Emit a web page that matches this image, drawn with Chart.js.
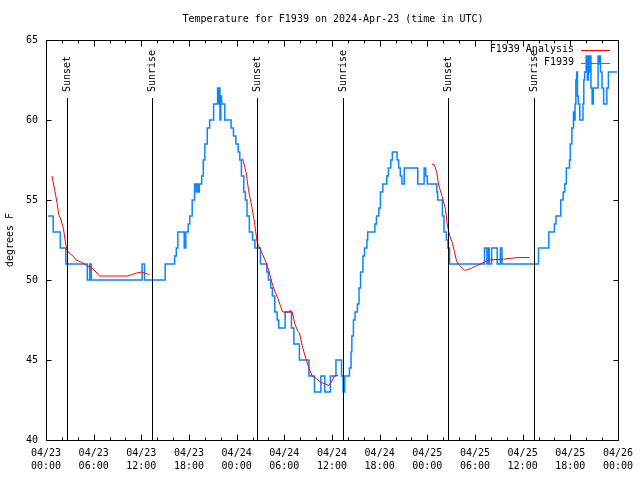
<!DOCTYPE html>
<html>
<head>
<meta charset="utf-8">
<script src="https://cdn.jsdelivr.net/npm/chart.js@4/dist/chart.umd.min.js"></script>
<style>
  html, body { margin: 0; padding: 0; background: #fff; }
  #wrap { width: 640px; height: 480px; position: relative; }
</style>
</head>
<body>
<div id="wrap"><canvas id="tempChart"></canvas></div>
<script>
// hours since 04/23 00:00 UTC
const obsHours = [0.25, 0.9, 1.8, 2.5, 5.2, 5.5, 5.7, 12.1, 12.4, 15.0, 16.2, 16.4, 16.6, 17.4, 17.6, 17.9, 18.1, 18.4, 18.7, 18.9,
  19.0, 19.2, 19.3, 19.6, 19.8, 20.0, 20.3, 20.6, 21.1, 21.6, 21.75, 21.8, 21.9, 22.0, 22.1, 22.5, 23.3, 23.6, 23.9, 24.2,
  24.4, 24.6, 24.9, 25.1, 25.3, 25.6, 26.0, 26.3, 27.0, 27.8, 28.0, 28.3, 28.5, 28.8, 29.1, 29.3, 30.1, 30.9, 31.2, 31.9,
  33.1, 33.8, 34.6, 35.1, 35.8, 36.5, 37.2, 37.4, 37.6, 38.2, 38.4, 38.5, 38.7, 38.9, 39.2, 39.4, 39.6, 39.9, 40.1, 40.4,
  40.5, 41.4, 41.6, 41.9, 42.1, 42.4, 42.9, 43.1, 43.4, 43.6, 44.2, 44.4, 44.6, 44.8, 45.1, 46.8, 47.6, 47.8, 48.0, 49.2,
  49.3, 49.9, 50.1, 50.4, 50.6, 50.8, 55.2, 55.5, 55.7, 55.8, 56.1, 56.8, 57.2, 57.4, 62.0, 63.3, 64.0, 64.2, 64.8, 65.1,
  65.3, 65.5, 65.9, 66.0, 66.2, 66.4, 66.5, 66.6, 66.7, 66.8, 66.9, 67.0, 67.2, 67.6, 67.7, 67.8, 68.0, 68.15, 68.3, 68.45,
  68.5, 68.6, 68.75, 68.9, 69.5, 69.6, 69.7, 69.8, 70.0, 70.2, 70.6, 70.8, 71.9];
const obsTemps = [54, 53, 52, 51, 50, 51, 50, 51, 50, 51, 51.5, 52, 53, 52, 53, 53.5, 54, 55, 56, 55.5,
  56, 55.5, 56, 56.5, 57.5, 58.5, 59.5, 60, 61, 62, 61, 62, 60, 61.5, 61, 60, 59.5, 59, 58.5, 58,
  57.5, 56.5, 55.5, 55, 54, 53, 52.5, 52, 51, 50.5, 50, 49.5, 49, 48, 47.5, 47, 48, 47, 46, 45,
  44, 43, 44, 43, 44, 45, 44, 43, 44, 44.5, 45.5, 46.5, 47.5, 48, 48.5, 49.5, 50.5, 51.5, 52, 52.5,
  53, 53.5, 54, 54.5, 55.5, 56, 56.5, 57, 57.5, 58, 57.5, 57, 56.5, 56, 57, 56, 57, 56.5, 56, 55.5,
  55, 54, 53, 52.5, 52, 51, 52, 51, 52, 51, 52, 51, 52, 51, 52, 53, 53.5, 54, 55, 55.5,
  56, 57, 57.5, 58.5, 59.5, 60.5, 60, 61, 62.5, 63, 61.5, 61, 60, 61, 62.5, 63, 64, 62.5, 64, 63,
  64, 62, 61, 62, 64, 63.5, 64, 63, 62, 61, 62, 63, 63];

// analysis curve, null = gap between segments
const anaHours = [0.75, 1.1, 1.4, 1.6, 1.9, 2.2, 2.4, 2.6, 2.9, 3.4, 3.8, 4.5, 5.1, 5.7, 6.3, 6.75, 8.5, 10.3, 10.9, 11.5,
  12.0, 12.6, 13.0, 13.1,
  24.75, 25.2, 25.5, 25.9, 26.2, 26.6, 27.1, 27.7, 28.1, 28.4, 28.8, 29.2, 29.5, 29.8, 30.6, 30.7, 31.0, 31.3, 31.7, 31.9,
  32.3, 32.7, 33.1, 33.5, 34.0, 34.6, 35.2, 35.6, 35.9, 36.3, 36.8, 36.9,
  48.6, 48.9, 49.2, 49.4, 49.7, 50.0, 50.3, 50.5, 50.8, 51.1, 51.4, 51.7, 52.1, 52.7, 53.4, 54.25, 55.1, 55.7, 57.6, 58.4,
  59.3, 60.9];
const anaTemps = [56.5, 55.6, 54.8, 54.1, 53.75, 53.2, 52.5, 51.9, 51.7, 51.5, 51.25, 51.1, 50.9, 50.8, 50.5, 50.25, 50.25, 50.25, 50.35, 50.45,
  50.5, 50.4, 50.35, null,
  57.6, 56.7, 55.6, 54.6, 53.75, 52.3, 51.8, 51.1, 50.5, 49.9, 49.3, 48.85, 48.4, 48.0, 48.0, 48.1, 48.0, 47.3, 46.8, 46.7,
  45.8, 45.1, 44.5, 44.0, 43.85, 43.6, 43.5, 43.4, 43.6, 44.0, 44.05, null,
  57.25, 57.2, 56.7, 56.0, 55.5, 55.0, 54.4, 53.5, 52.8, 52.4, 51.8, 51.15, 50.9, 50.6, 50.7, 50.9, 51.1, 51.25, 51.3, 51.35,
  51.4, 51.4];

const sunHours = [2.6, 13.4, 26.6, 37.4, 50.6, 61.4];
const sunLabels = ['Sunset', 'Sunrise', 'Sunset', 'Sunrise', 'Sunset', 'Sunrise'];

const tickDates = ['04/23', '04/23', '04/23', '04/23', '04/24', '04/24', '04/24', '04/24', '04/25', '04/25', '04/25', '04/25', '04/26'];
const tickTimes = ['00:00', '06:00', '12:00', '18:00', '00:00', '06:00', '12:00', '18:00', '00:00', '06:00', '12:00', '18:00', '00:00'];

const chartTitle = 'Temperature for F1939 on 2024-Apr-23 (time in UTC)';
const yLabel = 'degrees F';
const seriesNames = ['F1939 Analysis', 'F1939'];
const RED = '#ff0000';
const BLUE = '#0a84ff';
const FONT = '10px "DejaVu Sans Mono", monospace';

const toPoints = (xs, ys) => xs.map((h, i) => ({ x: h, y: ys[i] }));

// gnuplot-like frame, inward ticks, sun markers, title and key
const decor = {
  id: 'decor',
  afterDatasetsDraw(chart) {
    const { ctx, chartArea: a, scales: { x } } = chart;
    ctx.save();
    ctx.strokeStyle = '#000';
    ctx.lineWidth = 1;
    ctx.fillStyle = '#000';
    ctx.font = FONT;
    sunHours.forEach((h, i) => {
      const px = Math.round(x.getPixelForValue(h)) + 0.5;
      ctx.beginPath();
      ctx.moveTo(px, 98);
      ctx.lineTo(px, a.bottom);
      ctx.stroke();
      ctx.save();
      ctx.translate(px, 92);
      ctx.rotate(-Math.PI / 2);
      ctx.textAlign = 'left';
      ctx.textBaseline = 'middle';
      ctx.fillText(sunLabels[i], 0, 0);
      ctx.restore();
    });
    ctx.restore();
  },
  afterDraw(chart) {
    const { ctx, chartArea: a, scales: { x, y } } = chart;
    ctx.save();
    ctx.strokeStyle = '#000';
    ctx.lineWidth = 1;
    const L = Math.round(a.left) + 0.5, R = Math.round(a.right) + 0.5;
    const T = Math.round(a.top) + 0.5, B = Math.round(a.bottom) + 0.5;
    ctx.strokeRect(L, T, R - L, B - T);
    ctx.beginPath();
    for (let h = 0; h <= 72; h += 2) {
      const px = Math.round(x.getPixelForValue(h)) + 0.5;
      const len = h % 6 === 0 ? 6 : 3;
      ctx.moveTo(px, B); ctx.lineTo(px, B - len);
      ctx.moveTo(px, T); ctx.lineTo(px, T + len);
    }
    for (let v = 40; v <= 65; v += 5) {
      const py = Math.round(y.getPixelForValue(v)) + 0.5;
      ctx.moveTo(L, py); ctx.lineTo(L + 5, py);
      ctx.moveTo(R, py); ctx.lineTo(R - 5, py);
    }
    ctx.stroke();

    ctx.fillStyle = '#000';
    ctx.font = FONT;
    ctx.textAlign = 'center';
    ctx.textBaseline = 'middle';
    ctx.fillText(chartTitle, 333, 19.5);

    ctx.save();
    ctx.translate(10, 240);
    ctx.rotate(-Math.PI / 2);
    ctx.fillText(yLabel, 0, 0);
    ctx.restore();

    // key
    const colors = [RED, BLUE];
    seriesNames.forEach((name, i) => {
      const ky = 49.5 + i * 13;
      ctx.textAlign = 'right';
      ctx.fillStyle = '#000';
      ctx.fillText(name, 574, ky);
      ctx.strokeStyle = colors[i];
      ctx.beginPath();
      ctx.moveTo(581, Math.round(ky) + 0.5);
      ctx.lineTo(610, Math.round(ky) + 0.5);
      ctx.stroke();
    });
    ctx.restore();
  }
};

new Chart(document.getElementById('tempChart'), {
  type: 'line',
  data: {
    datasets: [
      {
        label: seriesNames[0],
        data: toPoints(anaHours, anaTemps),
        borderColor: RED,
        borderWidth: 1,
        pointRadius: 0,
        spanGaps: false,
        order: 0
      },
      {
        label: seriesNames[1],
        data: toPoints(obsHours, obsTemps),
        borderColor: BLUE,
        borderWidth: 1.5,
        pointRadius: 0,
        stepped: 'before',
        order: 1
      }
    ]
  },
  options: {
    responsive: true,
    maintainAspectRatio: false,
    animation: false,
    layout: { padding: { top: 40, right: 19, left: 0, bottom: 0 } },
    plugins: { legend: { display: false }, title: { display: false }, tooltip: { enabled: false } },
    scales: {
      x: {
        type: 'linear',
        min: 0,
        max: 72,
        afterFit(s) { s.height = 40; },
        afterBuildTicks(s) {
          s.ticks = tickDates.map((d, i) => ({ value: i * 6 }));
        },
        grid: { display: false, drawTicks: false },
        border: { display: false },
        ticks: {
          padding: 7,
          maxRotation: 0,
          autoSkip: false,
          color: '#000',
          font: { family: '"DejaVu Sans Mono", monospace', size: 10, lineHeight: 1.3 },
          callback: (v) => [tickDates[v / 6], tickTimes[v / 6]]
        }
      },
      y: {
        min: 40,
        max: 65,
        afterFit(s) { s.width = 46; },
        grid: { display: false, drawTicks: false },
        border: { display: false },
        ticks: {
          stepSize: 5,
          padding: 8,
          color: '#000',
          font: { family: '"DejaVu Sans Mono", monospace', size: 10 }
        }
      }
    }
  },
  plugins: [decor]
});
</script>
</body>
</html>
